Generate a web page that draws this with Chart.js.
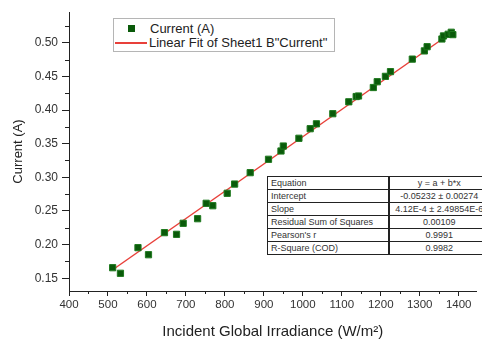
<!DOCTYPE html>
<html>
<head>
<meta charset="utf-8">
<script src="https://cdn.jsdelivr.net/npm/chart.js@4.4.1/dist/chart.umd.min.js"></script>
<style>
  html, body { margin: 0; padding: 0; background: #fff; overflow: hidden; }
  #wrap { position: relative; width: 482px; height: 339px; overflow: hidden; font-family: "Liberation Sans", Arial, sans-serif; }
  canvas { position: absolute; left: 0; top: 0; }
  #legend { position: absolute; left: 113px; top: 18px; width: 220px; height: 32px; border: 1px solid #b5b5b5; background: #fff; font-size: 13px; color: #222; }
  #legend .row { position: absolute; left: 0; height: 14px; line-height: 14px; white-space: nowrap; }
  #legend .sym { position: absolute; }
  #fit { position: absolute; left: 267px; top: 176px; width: 222px; table-layout: fixed; border-collapse: collapse; font-size: 9px; color: #333; background: #fff; border: 1.5px solid #111; }
  #fit td { border: 1px solid #222; height: 12px; padding: 0 0 0 3px; white-space: nowrap; overflow: visible; line-height: 12px; }
  #fit td.v { text-align: center; padding: 0; border-left: 2px solid #222; }
</style>
</head>
<body>
<div id="wrap">
  <canvas id="c" width="482" height="339"></canvas>
  <div id="legend">
    <div class="row" style="top:3px;">
      <span class="sym" style="left:14px;top:3px;width:7px;height:7px;background:#0a5a0a;"></span>
      <span style="position:absolute;left:36px;">Current (A)</span>
    </div>
    <div class="row" style="top:17px;">
      <span class="sym" style="left:1px;top:6px;width:32px;height:2px;background:#e8403a;"></span>
      <span style="position:absolute;left:35px;">Linear Fit of Sheet1 B"Current"</span>
    </div>
  </div>
  <table id="fit"><colgroup><col style="width:121px"><col style="width:101px"></colgroup></table>
</div>
<script>
// ---- data ----
const irradiance = [512, 532, 577, 604, 645, 676, 693, 730, 752, 769, 806, 825, 865, 912, 944, 950, 990, 1019, 1035, 1077, 1118, 1137, 1143, 1181, 1191, 1212, 1225, 1281, 1312, 1319, 1357, 1361, 1373, 1381, 1385];
const current    = [0.1657, 0.1574, 0.1955, 0.1850, 0.2178, 0.2153, 0.2317, 0.2385, 0.2614, 0.2578, 0.2763, 0.2900, 0.3069, 0.3268, 0.3391, 0.3465, 0.3580, 0.3722, 0.3795, 0.3945, 0.4122, 0.4200, 0.4208, 0.4334, 0.4420, 0.4500, 0.4570, 0.4756, 0.4878, 0.4940, 0.5055, 0.5100, 0.5125, 0.5155, 0.5120];
const fitX = [514, 1383];
const fitY = [0.1634, 0.5155];
const xTicks = [400, 500, 600, 700, 800, 900, 1000, 1100, 1200, 1300, 1400];
const yTicks = [0.15, 0.20, 0.25, 0.30, 0.35, 0.40, 0.45, 0.50];
const tableLabels = ["Equation", "Intercept", "Slope", "Residual Sum of Squares", "Pearson's r", "R-Square (COD)"];
const tableValues = ["y = a + b*x", "-0.05232 \u00b1 0.00274", "4.12E-4 \u00b1 2.49854E-6", "0.00109", "0.9991", "0.9982"];

// ---- fit table ----
const tbl = document.getElementById('fit');
tableLabels.forEach((lab, i) => {
  const tr = document.createElement('tr');
  const a = document.createElement('td'); a.textContent = lab;
  const b = document.createElement('td'); b.textContent = tableValues[i]; b.className = 'v';
  tr.appendChild(a); tr.appendChild(b); tbl.appendChild(tr);
});

const minorTicks = {
  id: 'minorTicks',
  afterDraw(chart) {
    const ctx = chart.ctx, xs = chart.scales.x, ys = chart.scales.y;
    ctx.save();
    ctx.strokeStyle = '#222'; ctx.lineWidth = 1;
    ctx.beginPath();
    for (let i = 0; i < xTicks.length; i++) {
      const v = xTicks[i] + 50;
      if (v > xs.max) break;
      const p = Math.round(xs.getPixelForValue(v)) + 0.5;
      ctx.moveTo(p, xs.top); ctx.lineTo(p, xs.top + 3);
    }
    for (let i = 0; i < yTicks.length; i++) {
      const v = yTicks[i] + 0.025;
      if (v > ys.max) break;
      const p = Math.round(ys.getPixelForValue(v)) + 0.5;
      ctx.moveTo(ys.right, p); ctx.lineTo(ys.right - 4, p);
    }
    ctx.stroke();
    ctx.restore();
  }
};

new Chart(document.getElementById('c'), {
  type: 'scatter',
  data: {
    datasets: [
      {
        label: 'Linear Fit of Sheet1 B"Current"',
        type: 'line',
        data: fitX.map((x, i) => ({ x: x, y: fitY[i] })),
        borderColor: '#e8403a',
        borderWidth: 1.5,
        pointRadius: 0,
        fill: false,
        order: 2
      },
      {
        label: 'Current (A)',
        data: irradiance.map((x, i) => ({ x: x, y: current[i] })),
        pointStyle: 'rect',
        pointRadius: 4.4,
        backgroundColor: '#0a5a0a',
        borderColor: '#1f7a1f',
        borderWidth: 1,
        order: 1
      }
    ]
  },
  options: {
    responsive: false,
    animation: false,
    devicePixelRatio: 1,
    layout: { padding: { top: 12, right: 1, left: 0, bottom: 0 } },
    plugins: { legend: { display: false }, tooltip: { enabled: false } },
    scales: {
      x: {
        type: 'linear',
        min: 400, max: 1446,
        afterFit: s => { s.height = 48; },
        afterBuildTicks: s => { s.ticks = xTicks.map(v => ({ value: v })); },
        ticks: { font: { family: 'Liberation Sans', size: 11.5 }, color: '#333', padding: 2, maxRotation: 0, callback: v => String(v) },
        grid: { drawOnChartArea: false, drawTicks: true, tickLength: 5, color: '#222' },
        border: { display: true, color: '#222', width: 1 },
        title: { display: true, text: 'Incident Global Irradiance (W/m\u00b2)', font: { family: 'Liberation Sans', size: 15, lineHeight: 1 }, color: '#222', padding: { top: 0, bottom: 0 } }
      },
      y: {
        type: 'linear',
        min: 0.1311, max: 0.5456,
        afterFit: s => { s.width = 69; },
        afterBuildTicks: s => { s.ticks = yTicks.map(v => ({ value: v })); },
        ticks: { font: { family: 'Liberation Sans', size: 12 }, color: '#333', padding: 4, callback: v => Number(v).toFixed(2) },
        grid: { drawOnChartArea: false, drawTicks: true, tickLength: 7, color: '#222' },
        border: { display: true, color: '#222', width: 1 },
        title: { display: true, text: 'Current (A)', font: { family: 'Liberation Sans', size: 13, lineHeight: 1 }, color: '#222', padding: { top: 12, bottom: 0 } }
      }
    }
  },
  plugins: [minorTicks]
});
</script>
</body>
</html>
